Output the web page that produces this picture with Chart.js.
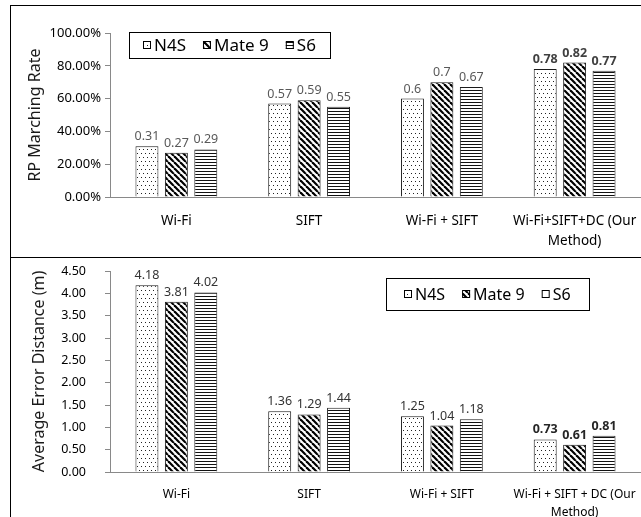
<!DOCTYPE html>
<html>
<head>
<meta charset="utf-8">
<script src="https://cdn.jsdelivr.net/npm/chart.js@4.4.0/dist/chart.umd.min.js"></script>
<style>
  html, body { margin: 0; padding: 0; background: #fff; overflow: hidden; }
  #wrap { position: relative; width: 641px; height: 517px; }
  canvas { position: absolute; left: 0; }
  #rate { top: 0; }
  #err  { top: 257px; }
  .frame   { position: absolute; left: 10px; top: 5px; width: 640px; height: 520px;
             border-left: 1px solid #000; border-top: 1px solid #000; }
  .divider { position: absolute; left: 10px; top: 257px; width: 640px; height: 0;
             border-top: 1px solid #000; }
</style>
</head>
<body>
<div id="wrap">
  <div class="frame"></div>
  <div class="divider"></div>
  <canvas id="rate" width="641" height="257"></canvas>
  <canvas id="err" width="641" height="260"></canvas>
</div>
<script>
'use strict';

// ── DATA ──────────────────────────────────────────────────────────────────────
const SERIES = ['N4S', 'Mate 9', 'S6'];

// top: RP matching rate
const RATE_CATEGORIES = ['Wi-Fi', 'SIFT', 'Wi-Fi + SIFT', ['Wi-Fi+SIFT+DC (Our', 'Method)']];
const RATE_N4S  = [0.31, 0.57, 0.6, 0.78];
const RATE_MATE = [0.27, 0.59, 0.7, 0.82];
const RATE_S6   = [0.29, 0.55, 0.67, 0.77];

// bottom: average error distance (m)
const ERR_CATEGORIES = ['Wi-Fi', 'SIFT', 'Wi-Fi + SIFT', ['Wi-Fi + SIFT + DC (Our', 'Method)']];
const ERR_N4S  = [4.18, 1.36, 1.25, 0.73];
const ERR_MATE = [3.81, 1.29, 1.04, 0.61];
const ERR_S6   = [4.02, 1.44, 1.18, 0.81];

const FONT = '"Noto Sans", sans-serif';
Chart.defaults.font.family = FONT;
Chart.defaults.color = '#000';

// ── FILL PATTERNS ─────────────────────────────────────────────────────────────
function makePattern(kind) {
  const c = document.createElement('canvas');
  const g = c.getContext('2d');
  if (kind === 'dots') {
    c.width = 4; c.height = 8;
    g.fillStyle = '#fff'; g.fillRect(0, 0, 4, 8);
    g.fillStyle = '#222';
    g.fillRect(1, 1, 1, 1);
    g.fillRect(3, 5, 1, 1);
  } else if (kind === 'diag') {
    c.width = 6; c.height = 6;
    g.fillStyle = '#fff'; g.fillRect(0, 0, 6, 6);
    g.strokeStyle = '#000'; g.lineWidth = 2.2;
    [-6, 0, 6].forEach(x0 => {
      g.beginPath(); g.moveTo(x0, 0); g.lineTo(x0 + 6, 6); g.stroke();
    });
  } else {
    c.width = 2; c.height = 3;
    g.fillStyle = '#fff'; g.fillRect(0, 0, 2, 3);
    g.fillStyle = '#111'; g.fillRect(0, 0, 2, 1);
  }
  return c.getContext('2d').createPattern(c, 'repeat');
}

const FILLS = [makePattern('dots'), makePattern('diag'), makePattern('lines')];

// ── PLUGINS ───────────────────────────────────────────────────────────────────
const valueLabels = {
  id: 'valueLabels',
  afterDatasetsDraw(chart, args, o) {
    const { ctx } = chart;
    ctx.save();
    ctx.textAlign = 'center';
    ctx.textBaseline = 'alphabetic';
    chart.data.datasets.forEach((ds, di) => {
      chart.getDatasetMeta(di).data.forEach((bar, i) => {
        const bold = i === o.boldIndex;
        ctx.font = `${bold ? 'bold ' : ''}${o.size}px ${FONT}`;
        ctx.fillStyle = bold ? o.boldColor : o.color;
        ctx.fillText(String(ds.data[i]), bar.x, bar.y - o.gap);
      });
    });
    ctx.restore();
  },
};

const boxLegend = {
  id: 'boxLegend',
  afterDraw(chart, args, o) {
    const { ctx } = chart;
    ctx.save();
    ctx.strokeStyle = '#000';
    ctx.lineWidth = 1;
    ctx.strokeRect(o.x + 0.5, o.y + 0.5, o.w, o.h);
    ctx.font = `${o.size}px ${FONT}`;
    const icon = 8, gapIcon = 3, gapItem = 17;
    const labels = chart.data.datasets.map(d => d.label);
    const widths = labels.map(l => icon + gapIcon + ctx.measureText(l).width);
    const total = widths.reduce((a, b) => a + b, 0) + gapItem * (labels.length - 1);
    let cx = Math.round(o.x + (o.w - total) / 2);
    const cy = Math.round(o.y + o.h / 2);
    labels.forEach((l, i) => {
      ctx.fillStyle = o.fills[i];
      ctx.fillRect(cx, cy - icon / 2, icon, icon);
      ctx.strokeStyle = '#000';
      ctx.strokeRect(cx + 0.5, cy - icon / 2 + 0.5, icon - 1, icon - 1);
      ctx.fillStyle = '#000';
      ctx.textBaseline = 'middle';
      ctx.fillText(l, cx + icon + gapIcon, cy + 1);
      cx += widths[i] + gapItem;
    });
    ctx.restore();
  },
};

// ── CHART FACTORY ─────────────────────────────────────────────────────────────
function makeChart(id, cfg) {
  const datasets = cfg.values.map((vals, i) => ({
    label: SERIES[i],
    data: vals,
    backgroundColor: FILLS[i],
    borderColor: '#1a1a1a',
    borderWidth: 1,
    categoryPercentage: 0.665,
    barPercentage: 0.78,
  }));

  return new Chart(document.getElementById(id), {
    type: 'bar',
    data: { labels: cfg.categories, datasets },
    plugins: [valueLabels, boxLegend],
    options: {
      responsive: false,
      animation: false,
      events: [],
      layout: { padding: { left: 10, top: cfg.padTop, right: 0, bottom: 0 } },
      plugins: {
        legend: { display: false },
        tooltip: { enabled: false },
        valueLabels: cfg.labels,
        boxLegend: cfg.legend,
      },
      scales: {
        x: {
          offset: true,
          grid: { display: false },
          border: { display: true, color: '#898989', width: 1 },
          ticks: {
            color: '#000',
            padding: cfg.xPad,
            maxRotation: 0,
            autoSkip: false,
            font: { size: cfg.xSize, lineHeight: cfg.xLine },
          },
          afterFit: s => { s.height = cfg.xHeight; s.paddingLeft = 0; s.paddingRight = 0; },
        },
        y: {
          min: cfg.yMin,
          max: cfg.yMax,
          grid: { drawOnChartArea: false, drawTicks: true, tickLength: 5, color: '#898989' },
          border: { display: true, color: '#898989', width: 1 },
          ticks: {
            stepSize: cfg.yStep,
            padding: cfg.yPad,
            color: '#000',
            font: { size: cfg.ySize },
            callback: cfg.yFormat,
          },
          title: {
            display: true,
            text: cfg.yTitle,
            color: '#1a1a1a',
            font: { size: cfg.titleSize },
            padding: { top: cfg.titlePad, bottom: 0 },
          },
          // fixed axis width; tick padding must not push the plot top down
          afterFit: s => { s.width = 100; s.paddingTop = 0; s.paddingBottom = 0; },
        },
      },
    },
  });
}

makeChart('rate', {
  categories: RATE_CATEGORIES,
  values: [RATE_N4S, RATE_MATE, RATE_S6],
  padTop: 33,
  xHeight: 60, xPad: 6, xSize: 13.5, xLine: '20px',
  yMin: 0, yMax: 1, yStep: 0.2, ySize: 13, yPad: 4,
  yFormat: v => (v * 100).toFixed(2) + '%',
  yTitle: 'RP Marching Rate', titleSize: 16, titlePad: 16,
  labels: { size: 12.5, gap: 6, color: '#595959', boldColor: '#404040', boldIndex: 3 },
  legend: { x: 129, y: 32, w: 201, h: 26, size: 17, fills: FILLS },
});

makeChart('err', {
  categories: ERR_CATEGORIES,
  values: [ERR_N4S, ERR_MATE, ERR_S6],
  padTop: 14,
  xHeight: 45, xPad: 6, xSize: 12, xLine: '18px',
  yMin: 0, yMax: 4.5, yStep: 0.5, ySize: 12.5, yPad: 19,
  yFormat: v => v.toFixed(2),
  yTitle: 'Average Error Distance (m)', titleSize: 16, titlePad: 20,
  labels: { size: 12.5, gap: 6, color: '#333', boldColor: '#262626', boldIndex: 3 },
  legend: { x: 386, y: 21, w: 203, h: 32, size: 16, fills: [FILLS[0], FILLS[1], '#fff'] },
});
</script>
</body>
</html>
